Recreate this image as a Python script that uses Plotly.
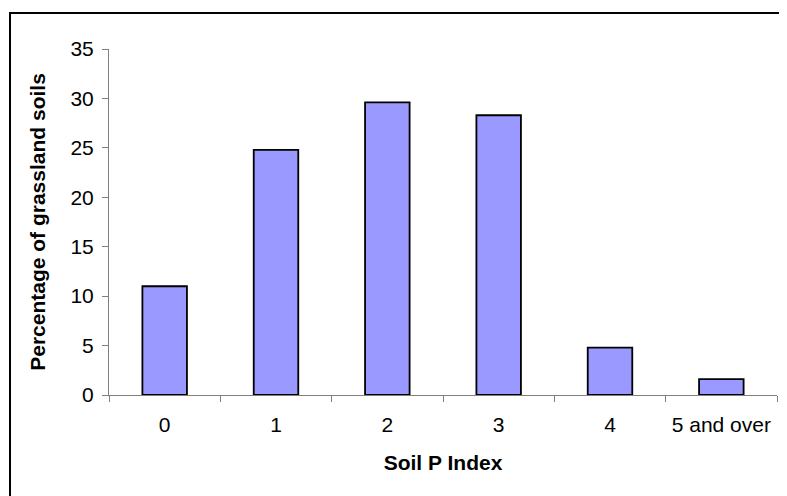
import plotly.graph_objects as go

categories = ["0", "1", "2", "3", "4", "5 and over"]
percentages = [11.0, 24.8, 29.6, 28.3, 4.8, 1.6]
y_ticks = [0, 5, 10, 15, 20, 25, 30, 35]

# the page body adds an 8px offset; size the figure so it fits the window
OFF = 8
W, H = 787 - OFF, 496 - OFF
# plot area in page pixels: x 109..777, y 49..395
L, T = 109 - OFF, 49 - OFF
R, B = W - (777 - OFF), H - (395 - OFF)
pw, ph = W - L - R, H - T - B


def px_x(page_x):
    return (page_x - OFF - L) / pw


def px_y(page_y):
    return (H - B - (page_y - OFF)) / ph


fig = go.Figure(go.Bar(
    x=categories, y=percentages,
    marker=dict(color="#9999FF", line=dict(color="black", width=1.8)),
    width=0.4,
))

font = "Arial, Liberation Sans, sans-serif"
fig.update_layout(
    width=W, height=H,
    margin=dict(l=L, r=R, t=T, b=B, autoexpand=False),
    paper_bgcolor="white", plot_bgcolor="white",
    showlegend=False,
    font=dict(family=font, size=21, color="black"),
    xaxis=dict(
        type="category", range=[-0.5, 5.5],
        showline=True, linecolor="#808080", linewidth=1,
        ticks="outside", tickson="boundaries", ticklen=6, tickcolor="#808080",
        showgrid=False, zeroline=False,
        tickfont=dict(size=21), ticklabelstandoff=11,
        title=dict(text="<b>Soil P Index</b>", font=dict(size=21), standoff=20),
    ),
    yaxis=dict(
        range=[0, 35], tickvals=y_ticks,
        showline=True, linecolor="#808080", linewidth=1,
        ticks="outside", ticklen=6, tickcolor="#808080",
        showgrid=False, zeroline=False,
        tickfont=dict(size=21), ticklabelstandoff=4,
        title=dict(text="<b>Percentage of grassland soils</b>", font=dict(size=21), standoff=19),
    ),
    shapes=[dict(
        type="rect", xref="paper", yref="paper",
        x0=px_x(10), x1=px_x(810),
        y0=px_y(520), y1=px_y(13),
        line=dict(color="black", width=2), fillcolor="rgba(0,0,0,0)",
        layer="above",
    )],
)

fig.write_html("out.html")
